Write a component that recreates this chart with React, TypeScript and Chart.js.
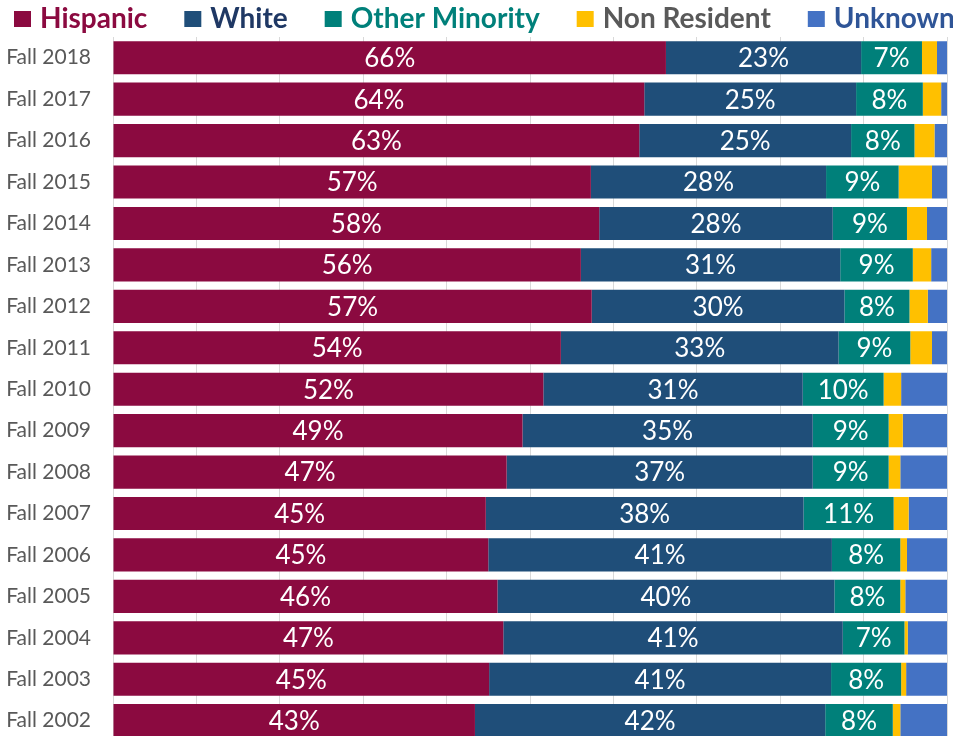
import React, { useEffect, useRef } from "react";
import { Chart, registerables } from "chart.js";

Chart.register(...registerables);

const categories = [
  "Fall 2018", "Fall 2017", "Fall 2016", "Fall 2015", "Fall 2014", "Fall 2013",
  "Fall 2012", "Fall 2011", "Fall 2010", "Fall 2009", "Fall 2008", "Fall 2007",
  "Fall 2006", "Fall 2005", "Fall 2004", "Fall 2003", "Fall 2002",
];

const hispanic = [66.3, 63.7, 63.1, 57.3, 58.3, 56.1, 57.4, 53.7, 51.6, 49.1, 47.2, 44.7, 45.0, 46.1, 46.8, 45.1, 43.4];
const white = [23.4, 25.4, 25.4, 28.2, 28.0, 31.1, 30.3, 33.3, 31.1, 34.8, 36.7, 38.1, 41.2, 40.4, 40.7, 41.0, 42.0];
const otherMinority = [7.3, 8.0, 7.6, 8.7, 8.9, 8.7, 7.8, 8.6, 9.7, 9.1, 9.1, 10.8, 8.2, 7.9, 7.4, 8.4, 8.1];
const nonResident = [1.8, 2.2, 2.4, 4.0, 2.4, 2.2, 2.2, 2.6, 2.1, 1.7, 1.4, 1.8, 0.8, 0.6, 0.4, 0.6, 0.9];
const unknown = [1.2, 0.7, 1.5, 1.8, 2.4, 1.9, 2.3, 1.8, 5.5, 5.3, 5.6, 4.6, 4.8, 5.0, 4.7, 4.9, 5.6];

const seriesNames = ["Hispanic", "White", "Other Minority", "Non Resident", "Unknown"];
const seriesColors = ["#8B0A40", "#1F4E79", "#00807A", "#FFC000", "#4472C4"];
const legendTextColors = ["#8B0A40", "#1F3864", "#00807A", "#595959", "#2F5597"];
const labeledSeries = [0, 1, 2];

const FONT = "Lato, 'Noto Sans', sans-serif";

const valueLabels = {
  id: "valueLabels",
  afterDatasetsDraw(chart: any) {
    const ctx = chart.ctx;
    ctx.save();
    ctx.font = `26px ${FONT}`;
    ctx.fillStyle = "#FFFFFF";
    ctx.textAlign = "center";
    ctx.textBaseline = "middle";
    labeledSeries.forEach((di) => {
      const meta = chart.getDatasetMeta(di);
      meta.data.forEach((el: any, i: number) => {
        const v = chart.data.datasets[di].data[i] as number;
        const p = el.getCenterPoint();
        ctx.fillText(`${Math.round(v)}%`, p.x, p.y + 1);
      });
    });
    ctx.restore();
  },
};

const topLegend = {
  id: "topLegend",
  afterDraw(chart: any) {
    const ctx = chart.ctx;
    ctx.save();
    ctx.font = `bold 28px ${FONT}`;
    ctx.textAlign = "left";
    ctx.textBaseline = "middle";
    let x = 14;
    const cy = 19;
    chart.data.datasets.forEach((ds: any, i: number) => {
      ctx.fillStyle = ds.backgroundColor;
      ctx.fillRect(x, cy - 8, 17, 16);
      x += 17 + 9;
      ctx.fillStyle = legendTextColors[i];
      ctx.fillText(ds.label, x, cy);
      x += ctx.measureText(ds.label).width + 37;
    });
    ctx.restore();
  },
};

export default function App() {
  const ref = useRef<HTMLCanvasElement | null>(null);

  useEffect(() => {
    if (!ref.current) return;
    const series = [hispanic, white, otherMinority, nonResident, unknown];
    const chart = new Chart(ref.current, {
      type: "bar",
      data: {
        labels: categories,
        datasets: series.map((d, i) => ({
          label: seriesNames[i],
          data: d,
          backgroundColor: seriesColors[i],
          borderWidth: 0,
          categoryPercentage: 0.8,
          barPercentage: 1,
        })),
      },
      options: {
        indexAxis: "y",
        responsive: false,
        animation: false,
        layout: { padding: { top: 37, right: 6, bottom: 19, left: 0 } },
        plugins: {
          legend: { display: false },
          title: { display: false },
          tooltip: { enabled: false },
        },
        scales: {
          x: {
            stacked: true,
            min: 0,
            max: 100,
            ticks: { display: false, stepSize: 10 },
            grid: { color: "#D9D9D9", drawTicks: false, lineWidth: 1 },
            border: { display: false },
            afterFit: (scale: any) => {
              scale.height = 0;
            },
          },
          y: {
            stacked: true,
            grid: { display: false, drawTicks: false },
            border: { display: true, color: "#D9D9D9", width: 1 },
            ticks: {
              color: "#595959",
              padding: 22,
              font: { family: FONT, size: 21 },
            },
            afterFit: (scale: any) => {
              scale.width = 113;
            },
          },
        },
      },
      plugins: [valueLabels, topLegend],
    });
    return () => chart.destroy();
  }, []);

  return (
    <div
      style={{
        position: "fixed",
        left: 0,
        top: 0,
        width: 953,
        height: 736,
        overflow: "hidden",
        background: "#FFFFFF",
      }}
    >
      <canvas ref={ref} width={953} height={776} style={{ display: "block", width: 953, height: 776 }} />
    </div>
  );
}
